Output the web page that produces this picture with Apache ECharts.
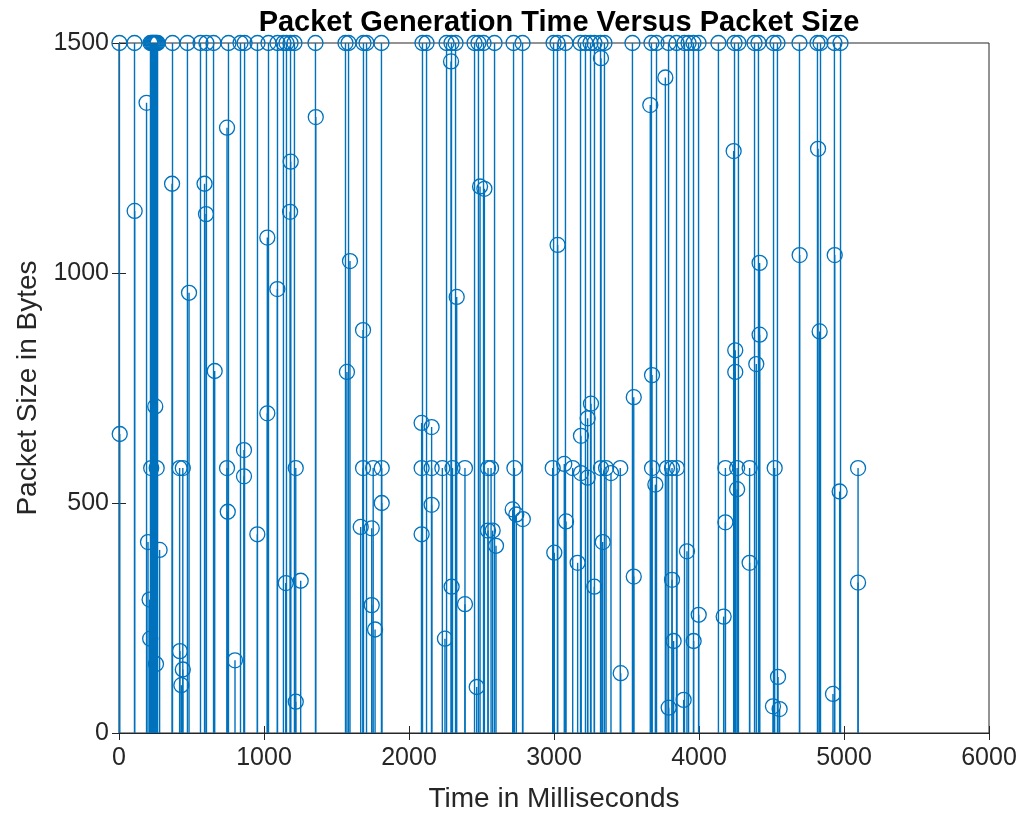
<!DOCTYPE html>
<html>
<head>
<meta charset="utf-8">
<script src="https://cdn.jsdelivr.net/npm/echarts@6/dist/echarts.min.js"></script>
<style>
  html, body { margin: 0; padding: 0; background: #fff; }
  #chart { width: 1018px; height: 815px; }
</style>
</head>
<body>
<div id="chart"></div>
<script>
// packet generation times (ms) and the matching packet sizes (bytes)
var timeMs = [
  3, 107, 217, 225, 232, 238, 245, 252, 259, 266, 369, 472, 562, 603, 652, 755, 838, 866, 955, 1031,
  1093, 1134, 1155, 1183, 1210, 1355, 1562, 1583, 1686, 1707, 1810, 2093, 2121, 2259, 2293, 2321,
  2452, 2479, 2514, 2590, 2721, 2783, 2997, 3024, 3079, 3183, 3217, 3252, 3279, 3321, 3348, 3541,
  3672, 3707, 3790, 3845, 3900, 3928, 3962, 3997, 4134, 4245, 4272, 4383, 4410, 4514, 4541, 4693,
  4817, 4838, 4934, 4976,
  5, 108, 190, 250, 222, 260, 200, 280, 211, 215, 255, 366, 418, 440, 420, 440, 430, 483, 590, 600,
  660, 745, 745, 750, 800,
  1357, 1184, 1180, 1023, 1092, 1593, 1683, 1572, 1023, 862, 862, 954, 1219, 1150, 1253, 1667, 1219,
  1753, 1812, 1683, 2290, 2490, 2520, 2329, 2087, 2156, 2087, 2156, 2230, 2300, 2386, 2545, 1812,
  2156, 1743, 2087, 2545, 1743, 1766, 2294, 2386, 2248, 2467,
  3025, 3324, 3255, 3232, 3186, 2566, 2727, 2991, 3071, 3129, 3186, 3324, 3359, 3393, 2577, 2600,
  2715, 2740, 2785, 3002, 3083, 3163, 3278, 3336, 3232, 3460,
  3768, 3664, 4239, 4250, 4250, 3676, 3550, 3457, 3676, 3699, 3779, 3814, 3848, 4182, 4263, 4263,
  4182, 3550, 3814, 3917, 3998, 4170, 3825, 3963, 3791, 3894,
  4821, 4418, 4694, 4936, 4418, 4395, 4832, 4349, 4522, 5097, 4970, 4349, 5097, 4545, 4510, 4556, 4924
];
var packetBytes = [
  1500, 1500, 1500, 1500, 1500, 1500, 1500, 1500, 1500, 1500, 1500, 1500, 1500, 1500, 1500, 1500, 1500, 1500, 1500, 1500,
  1500, 1500, 1500, 1500, 1500, 1500, 1500, 1500, 1500, 1500, 1500, 1500, 1500, 1500, 1500, 1500,
  1500, 1500, 1500, 1500, 1500, 1500, 1500, 1500, 1500, 1500, 1500, 1500, 1500, 1500, 1500, 1500,
  1500, 1500, 1500, 1500, 1500, 1500, 1500, 1500, 1500, 1500, 1500, 1500, 1500, 1500, 1500, 1500,
  1500, 1500, 1500, 1500,
  650, 1135, 1370, 710, 576, 576, 415, 398, 290, 205, 150, 1194, 576, 576, 178, 138, 104, 957, 1194, 1128,
  787, 1316, 576, 481, 158,
  1339, 1242, 1133, 1077, 965, 1026, 876, 785, 695, 615, 558, 432, 576, 326, 331, 448, 68,
  576, 576, 576, 1460, 1188, 1183, 948, 674, 665, 576, 576, 576, 576, 576, 576, 500,
  496, 445, 432, 440, 278, 225, 318, 280, 205, 100,
  1061, 1467, 716, 684, 646, 576, 576, 576, 585, 576, 565, 576, 576, 565, 440, 407,
  486, 475, 465, 392, 460, 370, 318, 415, 555, 130,
  1425, 1365, 1265, 832, 785, 778, 730, 576, 576, 540, 576, 576, 576, 576, 576, 530,
  458, 340, 333, 395, 257, 253, 200, 200, 55, 72,
  1270, 1022, 1039, 1039, 866, 802, 873, 576, 576, 576, 525, 370, 327, 122, 58, 52, 85
];

var xTicks = { min: 0, max: 6000, step: 1000 };
var yTicks = { min: 0, max: 1500, step: 500 };

var points = [];
for (var i = 0; i < timeMs.length; i++) {
  points.push([timeMs[i], packetBytes[i]]);
}

var chart = echarts.init(document.getElementById('chart'));
var axisColor = '#262626';
var stemColor = '#0072BD';
var font = 'Liberation Sans, Arial, Helvetica, sans-serif';
var plain = function (v) { return String(v); };

var option = {
  animation: false,
  title: {
    text: 'Packet Generation Time Versus Packet Size',
    left: 554,
    textAlign: 'center',
    top: 3,
    textStyle: { fontFamily: font, fontSize: 29, fontWeight: 'bold', color: '#000' }
  },
  grid: {
    left: 119, right: 29, top: 43, bottom: 82,
    outerBoundsMode: 'none',
    show: true, borderColor: axisColor, borderWidth: 1, backgroundColor: '#fff'
  },
  xAxis: [{
    type: 'value', min: xTicks.min, max: xTicks.max, interval: xTicks.step,
    name: 'Time in Milliseconds', nameLocation: 'middle', nameGap: 52,
    nameTextStyle: { fontFamily: font, fontSize: 28, color: axisColor },
    axisLine: { show: true, lineStyle: { color: axisColor } },
    axisTick: { show: true, inside: true, length: 7, lineStyle: { color: axisColor } },
    axisLabel: { fontFamily: font, fontSize: 25, color: axisColor, margin: 13, formatter: plain },
    splitLine: { show: false }
  }, {
    type: 'value', position: 'top', min: xTicks.min, max: xTicks.max, interval: xTicks.step,
    axisLine: { show: true, lineStyle: { color: axisColor } },
    axisTick: { show: true, inside: true, length: 7, lineStyle: { color: axisColor } },
    axisLabel: { show: false }, splitLine: { show: false }
  }],
  yAxis: [{
    type: 'value', min: yTicks.min, max: yTicks.max, interval: yTicks.step,
    name: 'Packet Size in Bytes', nameLocation: 'middle', nameGap: 74, nameRotate: 90,
    nameTextStyle: { fontFamily: font, fontSize: 28, color: axisColor },
    axisLine: { show: true, lineStyle: { color: axisColor } },
    axisTick: { show: true, inside: true, length: 7, lineStyle: { color: axisColor } },
    axisLabel: { fontFamily: font, fontSize: 25, color: axisColor, margin: 10, formatter: plain },
    splitLine: { show: false }
  }, {
    type: 'value', position: 'right', min: yTicks.min, max: yTicks.max, interval: yTicks.step,
    axisLine: { show: true, lineStyle: { color: axisColor } },
    axisTick: { show: true, inside: true, length: 7, lineStyle: { color: axisColor } },
    axisLabel: { show: false }, splitLine: { show: false }
  }],
  series: [{
    // stems from zero up to each value
    type: 'custom',
    data: points,
    clip: false,
    renderItem: function (params, api) {
      var x = api.value(0), y = api.value(1);
      var p0 = api.coord([x, 0]);
      var p1 = api.coord([x, y]);
      return {
        type: 'line',
        shape: { x1: p0[0], y1: p0[1], x2: p1[0], y2: p1[1] },
        style: { stroke: stemColor, lineWidth: 1.4 }
      };
    }
  }, {
    type: 'scatter',
    data: points,
    clip: false,
    symbol: 'circle',
    symbolSize: 15,
    itemStyle: { color: 'rgba(0,0,0,0)', borderColor: stemColor, borderWidth: 1.3, opacity: 1 },
    z: 3
  }]
};
chart.setOption(option);
</script>
</body>
</html>
